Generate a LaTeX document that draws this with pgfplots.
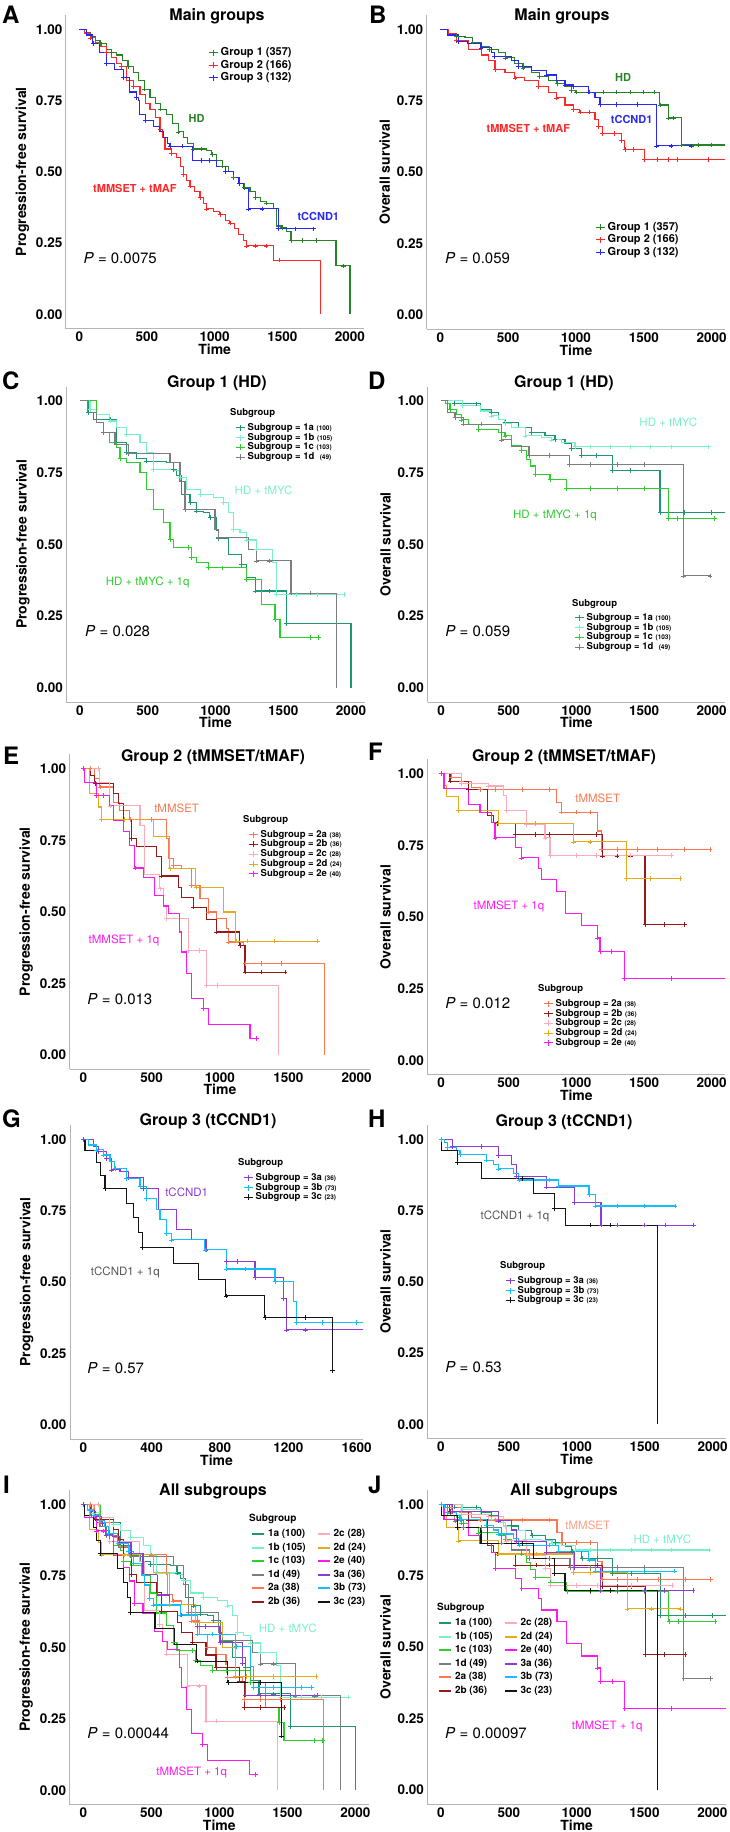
\documentclass[border=0pt]{standalone}
\usepackage{pgfplots}
\pgfplotsset{compat=1.18}
\usepackage{pgfplotstable}
\usepackage{fontspec}
\setmainfont{TeX Gyre Heros}
\setsansfont{TeX Gyre Heros}

\definecolor{axgray}{RGB}{180,180,180}
\definecolor{g1}{RGB}{40,130,40}
\definecolor{g2}{RGB}{255,40,40}
\definecolor{g3}{RGB}{40,40,240}
\definecolor{c1a}{RGB}{30,150,115}
\definecolor{c1b}{RGB}{120,240,200}
\definecolor{c1c}{RGB}{45,205,45}
\definecolor{c1d}{RGB}{125,125,125}
\definecolor{c2a}{RGB}{250,120,80}
\definecolor{c2b}{RGB}{150,25,25}
\definecolor{c2c}{RGB}{255,170,185}
\definecolor{c2d}{RGB}{230,170,30}
\definecolor{c2e}{RGB}{255,25,240}
\definecolor{c3a}{RGB}{140,60,210}
\definecolor{c3b}{RGB}{20,190,250}
\definecolor{c3c}{RGB}{20,20,20}
\definecolor{annGray}{RGB}{85,85,85}

\newcommand\ticfont{\bfseries\fontsize{13.5}{15}\selectfont}
\newcommand\labfont{\bfseries\fontsize{14}{16}\selectfont}
\newcommand\titfont{\bfseries\fontsize{16}{18}\selectfont}
\newcommand\letfont{\bfseries\fontsize{24}{26}\selectfont}
\newcommand\legfont{\bfseries\fontsize{11}{12}\selectfont}
\newcommand\subfont{\bfseries\fontsize{9.5}{10}\selectfont}
\newcommand\allfont{\bfseries\fontsize{10}{11}\selectfont}
\newcommand\annfont{\fontsize{11.5}{12}\selectfont}
\newcommand\annbfont{\bfseries\fontsize{11}{12}\selectfont}
\newcommand\pfont{\fontsize{15}{16}\selectfont}
\newcommand\sm[1]{{\fontsize{6.5}{7}\selectfont #1}}

% ---------- Main groups, PFS ----------
\pgfplotstableread{
t s c
0 1 0
40 0.99 0
80 0.975 0
120 0.96 0
153 0.95 1
200 0.93 0
240 0.92 1
276 0.91 0
320 0.89 0
360 0.87 1
400 0.85 0
440 0.82 0
480 0.79 1
522 0.76 0
560 0.74 0
600 0.72 1
645 0.70 0
690 0.67 0
730 0.64 1
768 0.62 0
800 0.60 0
842 0.58 1
900 0.58 1
941 0.575 0
980 0.56 1
1015 0.54 0
1060 0.52 1
1100 0.50 0
1138 0.48 1
1180 0.46 0
1220 0.445 1
1261 0.43 0
1300 0.41 1
1340 0.395 0
1380 0.39 1
1433 0.37 0
1458 0.31 0
1500 0.305 1
1532 0.29 0
1564 0.26 1
1650 0.26 1
1750 0.26 1
1897 0.17 0
1950 0.17 1
2000 0 0
}\tAa
\pgfplotstableread{
t s c
0 1 0
40 0.985 0
80 0.97 1
120 0.955 0
160 0.94 0
200 0.92 1
240 0.90 0
276 0.88 0
310 0.87 1
350 0.82 0
400 0.80 1
448 0.77 0
490 0.74 0
522 0.72 0
560 0.69 0
596 0.65 1
615 0.62 0
633 0.58 0
680 0.565 1
719 0.55 0
745 0.52 0
768 0.49 1
790 0.47 0
818 0.45 1
850 0.43 0
892 0.41 1
915 0.39 0
941 0.37 1
990 0.36 0
1039 0.35 1
1080 0.33 0
1113 0.32 1
1150 0.30 0
1175 0.28 0
1210 0.26 0
1236 0.24 1
1300 0.24 1
1380 0.24 1
1438 0.19 0
1480 0.19 1
1783 0 0
}\tAb
\pgfplotstableread{
t s c
0 1 0
50 0.98 0
100 0.95 1
150 0.92 0
202 0.88 1
260 0.86 0
325 0.83 1
374 0.78 0
420 0.76 1
436 0.75 0
445 0.70 0
490 0.68 1
547 0.66 0
590 0.64 0
621 0.62 0
650 0.60 0
670 0.59 1
760 0.59 1
837 0.54 0
900 0.54 1
960 0.54 1
1015 0.52 0
1080 0.50 1
1138 0.48 0
1180 0.46 1
1212 0.44 0
1249 0.37 1
1350 0.37 1
1470 0.30 1
1600 0.30 1
1729 0.30 1
}\tAc
% ---------- Main groups, OS ----------
\pgfplotstableread{
t s c
0 1 0
60 0.985 0
120 0.975 1
182 0.97 0
240 0.955 1
305 0.94 0
360 0.93 1
428 0.92 0
480 0.90 1
550 0.88 0
610 0.865 1
673 0.85 0
730 0.835 1
796 0.82 0
860 0.81 1
919 0.80 0
968 0.785 1
1000 0.78 1
1100 0.78 1
1200 0.78 1
1300 0.78 1
1400 0.78 1
1500 0.78 1
1580 0.78 1
1619 0.735 1
1680 0.69 1
1720 0.69 1
1779 0.595 1
1900 0.595 1
2000 0.595 1
2110 0.595 0
}\tBa
\pgfplotstableread{
t s c
0 1 0
59 0.985 0
120 0.96 1
206 0.93 0
305 0.91 0
354 0.89 0
403 0.86 1
477 0.85 0
550 0.83 1
624 0.82 0
722 0.80 1
796 0.78 0
857 0.76 1
919 0.735 0
980 0.72 1
1029 0.71 1
1100 0.71 1
1140 0.685 0
1164 0.66 1
1194 0.635 1
1280 0.635 1
1337 0.61 1
1361 0.58 1
1420 0.58 1
1504 0.545 1
1600 0.545 1
1680 0.545 1
1750 0.545 1
1975 0.545 1
2110 0.545 0
}\tBb
\pgfplotstableread{
t s c
0 1 0
50 0.98 0
133 0.957 1
200 0.95 0
300 0.935 1
378 0.92 0
400 0.905 1
526 0.89 0
575 0.87 1
673 0.855 0
784 0.84 1
857 0.82 0
919 0.805 1
980 0.80 1
1091 0.78 1
1140 0.76 0
1177 0.737 1
1300 0.737 1
1450 0.737 1
1595 0.592 1
1700 0.592 1
1853 0.592 1
}\tBc
% ---------- Group 1 subgroups, PFS ----------
\pgfplotstableread{
t s c
0 1 0
62 0.96 1
98 0.936 0
221 0.936 1
271 0.855 0
344 0.82 1
418 0.80 0
492 0.79 1
640 0.785 0
689 0.76 1
713 0.74 0
750 0.675 0
812 0.645 1
861 0.616 1
910 0.61 0
959 0.593 1
1009 0.55 0
1021 0.52 1
1097 0.465 0
1193 0.43 1
1230 0.384 0
1292 0.337 1
1400 0.337 1
1525 0.224 1
2000 0 0
}\tCa
\pgfplotstableread{
t s c
0 1 0
74 0.97 1
120 0.953 0
221 0.93 1
271 0.907 0
344 0.884 1
443 0.855 0
492 0.82 0
541 0.76 1
689 0.756 0
738 0.733 1
787 0.69 0
886 0.674 1
984 0.663 0
1058 0.645 1
1095 0.61 0
1132 0.552 1
1181 0.54 0
1230 0.515 1
1304 0.483 1
1422 0.436 0
1447 0.326 1
1600 0.326 1
1750 0.326 1
1948 0.326 1
}\tCb
\pgfplotstableread{
t s c
0 1 0
123 0.924 0
172 0.89 1
221 0.855 0
271 0.837 0
295 0.80 1
344 0.785 0
443 0.75 0
492 0.69 0
541 0.62 0
615 0.576 0
664 0.517 1
689 0.488 0
800 0.488 1
824 0.453 1
861 0.436 0
947 0.418 1
1050 0.418 1
1230 0.378 1
1341 0.29 0
1439 0.238 1
1476 0.174 0
1700 0.174 1
1759 0.174 1
}\tCc
\pgfplotstableread{
t s c
0 1 0
54 0.96 0
123 0.924 0
172 0.89 1
258 0.849 0
356 0.817 1
664 0.785 0
738 0.72 0
775 0.622 1
996 0.552 0
1021 0.523 1
1242 0.483 0
1304 0.442 1
1400 0.442 1
1557 0.33 1
1700 0.33 1
1894 0 0
}\tCd
% ---------- Group 1 subgroups, OS ----------
\pgfplotstableread{
t s c
0 1 0
100 0.99 1
264 0.99 1
290 0.97 0
374 0.96 1
424 0.936 0
473 0.924 1
571 0.907 0
670 0.89 1
768 0.878 0
842 0.866 1
916 0.852 0
965 0.835 1
1039 0.81 1
1150 0.81 1
1266 0.758 1
1400 0.758 1
1618 0.61 1
1800 0.61 1
2000 0.61 1
2110 0.61 0
}\tDa
\pgfplotstableread{
t s c
0 1 0
160 0.983 1
290 0.965 0
374 0.948 1
424 0.936 0
473 0.922 1
522 0.907 0
621 0.878 1
744 0.872 0
818 0.864 1
892 0.855 0
990 0.84 1
1100 0.84 1
1250 0.84 1
1400 0.84 1
1550 0.84 1
1700 0.84 1
1975 0.84 1
}\tDb
\pgfplotstableread{
t s c
0 1 0
30 0.99 0
66 0.97 1
116 0.953 0
153 0.934 1
202 0.918 0
276 0.90 1
424 0.89 0
473 0.878 1
522 0.843 0
596 0.826 1
633 0.797 0
660 0.773 0
695 0.744 1
805 0.727 1
928 0.694 1
1100 0.694 1
1300 0.694 1
1500 0.694 1
1680 0.59 1
1750 0.59 1
2020 0.59 1
}\tDc
\pgfplotstableread{
t s c
0 1 0
49 0.96 0
103 0.942 1
165 0.919 1
300 0.919 1
448 0.864 1
522 0.84 0
650 0.81 1
800 0.81 1
951 0.778 1
1100 0.778 1
1300 0.778 1
1500 0.778 1
1790 0.39 1
1988 0.39 1
}\tDd
% ---------- Group 2 subgroups, PFS ----------
\pgfplotstableread{
t s c
0 1 0
49 1 1
85 0.965 0
122 0.936 1
220 0.883 0
268 0.854 0
341 0.823 1
500 0.823 1
610 0.755 0
622 0.685 0
659 0.662 1
720 0.65 0
793 0.592 1
854 0.545 0
915 0.499 1
976 0.476 0
1049 0.441 0
1061 0.394 1
1171 0.382 0
1183 0.318 1
1300 0.318 1
1450 0.318 1
1768 0 0
}\tEa
\pgfplotstableread{
t s c
0 1 0
49 0.977 0
85 0.948 1
220 0.913 0
260 0.878 0
293 0.823 0
354 0.755 1
390 0.727 0
537 0.692 0
573 0.625 1
695 0.586 0
720 0.551 0
805 0.516 1
902 0.473 0
976 0.429 1
1146 0.382 1
1183 0.289 1
1300 0.289 1
1476 0.289 1
}\tEb
\pgfplotstableread{
t s c
0 1 0
110 1 1
122 0.953 0
195 0.87 1
415 0.80 0
451 0.63 0
561 0.58 1
585 0.52 0
610 0.476 1
768 0.365 1
850 0.365 1
902 0.242 1
980 0.242 1
1427 0 0
}\tEc
\pgfplotstableread{
t s c
0 1 0
44 0.913 0
110 0.866 0
134 0.823 1
300 0.823 1
517 0.762 0
634 0.65 1
824 0.586 1
1024 0.499 0
1117 0.397 1
1200 0.397 1
1400 0.397 1
1712 0.397 1
}\tEd
\pgfplotstableread{
t s c
0 1 1
12 0.953 0
98 0.907 1
150 0.907 1
195 0.87 0
220 0.82 0
293 0.779 0
341 0.732 0
378 0.653 1
439 0.62 0
524 0.556 0
585 0.52 0
622 0.493 0
707 0.429 0
720 0.359 0
756 0.283 0
793 0.198 0
878 0.161 1
915 0.105 0
1220 0.056 0
1268 0.056 1
}\tEe
% ---------- Group 2 subgroups, OS ----------
\pgfplotstableread{
t s c
0 1 0
79 0.988 1
153 0.973 1
227 0.953 0
290 0.945 1
400 0.945 1
600 0.945 1
800 0.945 1
855 0.90 0
892 0.866 1
1000 0.866 1
1100 0.866 1
1155 0.80 0
1187 0.736 1
1300 0.736 1
1450 0.736 1
1600 0.736 1
1800 0.736 1
1988 0.736 1
}\tFa
\pgfplotstableread{
t s c
0 1 0
66 0.974 1
202 0.945 1
345 0.855 0
386 0.83 0
416 0.826 1
547 0.787 1
700 0.787 1
800 0.787 1
1150 0.787 1
1192 0.713 1
1300 0.713 1
1400 0.713 1
1507 0.474 1
1650 0.474 1
1798 0.474 1
}\tFb
\pgfplotstableread{
t s c
0 1 0
153 0.965 1
350 0.957 1
460 0.924 0
485 0.872 1
633 0.822 1
768 0.776 1
805 0.715 1
1000 0.715 1
1150 0.715 1
1400 0.715 1
1704 0.715 1
}\tFc
\pgfplotstableread{
t s c
0 1 0
17 0.96 0
42 0.919 0
128 0.872 1
424 0.826 1
700 0.826 1
978 0.762 1
1100 0.762 1
1372 0.634 1
1550 0.634 1
1766 0.634 1
}\tFd
\pgfplotstableread{
t s c
0 1 1
22 0.948 0
202 0.892 0
288 0.864 0
374 0.831 0
399 0.776 1
547 0.741 0
596 0.706 1
719 0.669 0
744 0.63 0
855 0.59 0
923 0.512 0
1039 0.469 0
1155 0.427 1
1175 0.38 1
1260 0.38 1
1355 0.285 1
1700 0.285 1
2110 0.285 0
}\tFe
% ---------- Group 3 subgroups, PFS ----------
\pgfplotstableread{
t s c
0 1 1
59 0.974 0
88 0.957 1
137 0.933 1
166 0.893 1
215 0.887 0
263 0.867 1
351 0.828 1
439 0.755 0
546 0.683 0
634 0.648 0
718 0.613 1
839 0.572 1
900 0.572 1
1005 0.516 1
1171 0.443 1
1190 0.333 1
1300 0.333 1
1720 0.333 1
}\tGa
\pgfplotstableread{
t s c
0 1 0
29 0.98 0
78 0.963 1
117 0.945 1
156 0.922 0
185 0.898 1
254 0.863 1
332 0.834 1
371 0.793 1
429 0.753 0
449 0.718 0
488 0.671 1
517 0.648 1
712 0.613 1
839 0.546 1
950 0.546 1
1122 0.502 1
1229 0.432 0
1249 0.359 1
1400 0.359 1
1600 0.359 1
1680 0.359 1
}\tGb
\pgfplotstableread{
t s c
0 1 0
10 0.96 0
78 0.918 0
98 0.872 0
127 0.828 1
254 0.776 0
293 0.727 0
322 0.673 0
347 0.622 1
527 0.566 0
673 0.51 0
835 0.452 1
1063 0.377 1
1300 0.377 1
1458 0.19 1
}\tGc
% ---------- Group 3 subgroups, OS ----------
\pgfplotstableread{
t s c
0 1 0
83 0.974 1
300 0.974 1
422 0.942 1
520 0.91 0
557 0.869 1
778 0.832 1
982 0.779 1
1178 0.699 1
1300 0.699 1
1500 0.699 1
1650 0.699 1
1857 0.699 1
}\tHa
\pgfplotstableread{
t s c
0 1 1
29 0.988 0
50 0.972 1
115 0.96 0
140 0.947 1
336 0.927 1
386 0.91 0
422 0.896 1
532 0.881 0
574 0.857 1
800 0.857 1
864 0.836 1
1090 0.805 1
1139 0.766 1
1300 0.766 1
1500 0.766 1
1723 0.766 1
}\tHb
\pgfplotstableread{
t s c
0 1 0
5 0.96 0
123 0.918 1
295 0.863 0
600 0.863 1
680 0.811 0
834 0.758 1
914 0.699 0
1100 0.699 1
1250 0.699 1
1595 0 0
}\tHc

% one Kaplan-Meier curve: steps + censoring ticks
\newcommand{\km}[2]{%
  \addplot[const plot, color=#1, line width=1.1pt, forget plot] table[x=t,y=s] {#2};
  \addplot[only marks, mark=+, mark size=2.3pt, color=#1, line width=0.7pt, forget plot,
    restrict expr to domain={\thisrow{c}}{0.5:1.5}] table[x=t,y=s] {#2};
}

\pgfplotsset{
  km/.style={scale only axis, anchor=south west, clip=true,
    axis x line*=bottom, axis y line*=left,
    axis line style={-, draw=axgray, line width=0.9pt},
    ymin=-0.05, ymax=1.05,
    ytick={0,0.25,0.5,0.75,1}, yticklabels={0.00,0.25,0.50,0.75,1.00},
    xmin=-100, xmax=2100,
    xtick={0,500,1000,1500,2000}, xticklabels={0,500,1000,1500,2000},
    major tick length=0pt,
    tick label style={font=\ticfont},
    xlabel={Time}, xlabel style={font=\labfont, yshift=5pt},
    ylabel style={font=\labfont},
    legend cell align=left},
  legplus/.style={legend image code/.code={%
      \draw[##1, line width=1pt] (0pt,0pt) -- (9pt,0pt);
      \draw[##1, line width=0.8pt] (4.5pt,-3pt) -- (4.5pt,3pt);}},
  legline/.style={legend image code/.code={%
      \draw[##1, line width=1.8pt] (0pt,0pt) -- (12pt,0pt);}},
  lgmain/.style={legplus, legend style={at={#1}, anchor=north west, draw=none, fill=none,
      inner sep=0pt, font=\legfont, row sep=2.5pt,
      nodes={inner xsep=2.5pt, inner ysep=0pt, text height=8pt, text depth=2pt}}},
  lgsub/.style={legplus, legend style={at={#1}, anchor=north west, draw=none, fill=none,
      inner sep=0pt, font=\subfont, row sep=0.8pt,
      nodes={inner xsep=2.5pt, inner ysep=0pt, text height=7pt, text depth=2pt}}},
  lgall/.style={legline, legend columns=2, legend style={at={#1}, anchor=north west,
      draw=none, fill=none, inner sep=0pt, font=\allfont, row sep=3.5pt,
      /tikz/every even column/.append style={column sep=8pt},
      nodes={inner xsep=3pt, inner ysep=0pt, text height=7.5pt, text depth=2.5pt}}},
}

\begin{document}
\begin{tikzpicture}
\useasboundingbox (0pt,0pt) rectangle (730pt,-1832pt);

% ===================== A =====================
\begin{axis}[km, at={(65.8pt,-328.55pt)}, width=297.7pt, height=313.5pt,
  ylabel={Progression-free survival}, lgmain={(0.4777,0.8957)}]
\km{g1}{\tAa}
\km{g2}{\tAb}
\km{g3}{\tAc}
\addlegendimage{g1}\addlegendentry{Group 1 (357)}
\addlegendimage{g2}\addlegendentry{Group 2 (166)}
\addlegendimage{g3}\addlegendentry{Group 3 (132)}
\node[font=\annbfont, text=g1, inner sep=0pt] at (axis cs:867,0.688) {HD};
\node[font=\annbfont, text=g2, inner sep=0pt] at (axis cs:411,0.44) {tMMSET + tMAF};
\node[font=\annbfont, text=g3, inner sep=0pt] at (axis cs:1766,0.343) {tCCND1};
\node[font=\pfont, anchor=west, inner sep=0pt] at (axis cs:30,0.198) {\textit{P} = 0.0075};
\end{axis}

% ===================== B =====================
\begin{axis}[km, at={(426.7pt,-329.3pt)}, width=298.5pt, height=314.3pt,
  ylabel={Overall survival}, lgmain={(0.5638,0.3414)}]
\km{g1}{\tBa}
\km{g2}{\tBb}
\km{g3}{\tBc}
\addlegendimage{g1}\addlegendentry{Group 1 (357)}
\addlegendimage{g2}\addlegendentry{Group 2 (166)}
\addlegendimage{g3}\addlegendentry{Group 3 (132)}
\node[font=\annbfont, text=g1, inner sep=0pt] at (axis cs:1348,0.83) {HD};
\node[font=\annbfont, text=g3, inner sep=0pt] at (axis cs:1411,0.685) {tCCND1};
\node[font=\annbfont, text=g2, inner sep=0pt] at (axis cs:649,0.653) {tMMSET + tMAF};
\node[font=\pfont, anchor=west, inner sep=0pt] at (axis cs:34,0.198) {\textit{P} = 0.059};
\end{axis}

% ===================== C =====================
\begin{axis}[km, at={(66.45pt,-702pt)}, width=298.1pt, height=315.4pt,
  ylabel={Progression-free survival}, lgsub={(0.5654,0.8843)}]
\km{c1a}{\tCa}
\km{c1b}{\tCb}
\km{c1c}{\tCc}
\km{c1d}{\tCd}
\addlegendimage{c1a}\addlegendentry{Subgroup = 1a \sm{(100)}}
\addlegendimage{c1b}\addlegendentry{Subgroup = 1b \sm{(105)}}
\addlegendimage{c1c}\addlegendentry{Subgroup = 1c \sm{(103)}}
\addlegendimage{c1d}\addlegendentry{Subgroup = 1d \ \sm{(49)}}
\node[font=\annfont, text=c1b, inner sep=0pt] at (axis cs:1355,0.69) {HD + tMYC};
\node[font=\annfont, text=c1c, inner sep=0pt] at (axis cs:499,0.366) {HD + tMYC + 1q};
\node[font=\pfont, anchor=west, inner sep=0pt] at (axis cs:37,0.198) {\textit{P} = 0.028};
\end{axis}

% ===================== D =====================
\begin{axis}[km, at={(427.5pt,-702pt)}, width=297.7pt, height=315.4pt,
  ylabel={Overall survival}, lgsub={(0.4921,0.2819)}]
\km{c1a}{\tDa}
\km{c1b}{\tDb}
\km{c1c}{\tDc}
\km{c1d}{\tDd}
\addlegendimage{c1a}\addlegendentry{Subgroup = 1a \sm{(100)}}
\addlegendimage{c1b}\addlegendentry{Subgroup = 1b \sm{(105)}}
\addlegendimage{c1c}\addlegendentry{Subgroup = 1c \sm{(103)}}
\addlegendimage{c1d}\addlegendentry{Subgroup = 1d \ \sm{(49)}}
\node[font=\annfont, text=c1b, inner sep=0pt] at (axis cs:1680,0.927) {HD + tMYC};
\node[font=\annfont, text=c1c, inner sep=0pt] at (axis cs:842,0.60) {HD + tMYC + 1q};
\node[font=\pfont, anchor=west, inner sep=0pt] at (axis cs:30,0.198) {\textit{P} = 0.059};
\end{axis}

% ===================== E =====================
\begin{axis}[km, at={(69.6pt,-1069pt)}, width=300.7pt, height=314.6pt,
  ylabel={Progression-free survival}, lgsub={(0.5933,0.760)}]
\km{c2a}{\tEa}
\km{c2b}{\tEb}
\km{c2c}{\tEc}
\km{c2d}{\tEd}
\km{c2e}{\tEe}
\addlegendimage{c2a}\addlegendentry{Subgroup = 2a \sm{(38)}}
\addlegendimage{c2b}\addlegendentry{Subgroup = 2b \sm{(36)}}
\addlegendimage{c2c}\addlegendentry{Subgroup = 2c \sm{(28)}}
\addlegendimage{c2d}\addlegendentry{Subgroup = 2d \sm{(24)}}
\addlegendimage{c2e}\addlegendentry{Subgroup = 2e \sm{(40)}}
\node[font=\annfont, text=c2a, inner sep=0pt] at (axis cs:683,0.862) {tMMSET};
\node[font=\annfont, text=c2e, inner sep=0pt] at (axis cs:298,0.40) {tMMSET + 1q};
\node[font=\pfont, anchor=west, inner sep=0pt] at (axis cs:29,0.196) {\textit{P} = 0.013};
\end{axis}

% ===================== F =====================
\begin{axis}[km, at={(427.5pt,-1074.6pt)}, width=297.7pt, height=315.3pt,
  ylabel={Overall survival}, lgsub={(0.388,0.2398)}]
\km{c2a}{\tFa}
\km{c2b}{\tFb}
\km{c2c}{\tFc}
\km{c2d}{\tFd}
\km{c2e}{\tFe}
\addlegendimage{c2a}\addlegendentry{Subgroup = 2a \sm{(38)}}
\addlegendimage{c2b}\addlegendentry{Subgroup = 2b \sm{(36)}}
\addlegendimage{c2c}\addlegendentry{Subgroup = 2c \sm{(28)}}
\addlegendimage{c2d}\addlegendentry{Subgroup = 2d \sm{(24)}}
\addlegendimage{c2e}\addlegendentry{Subgroup = 2e \sm{(40)}}
\node[font=\annfont, text=c2a, inner sep=0pt] at (axis cs:1158,0.915) {tMMSET};
\node[font=\annfont, text=c2e, inner sep=0pt] at (axis cs:502,0.538) {tMMSET + 1q};
\node[font=\pfont, anchor=west, inner sep=0pt] at (axis cs:30,0.201) {\textit{P} = 0.012};
\end{axis}

% ===================== G =====================
\begin{axis}[km, at={(70pt,-1439.3pt)}, width=293.1pt, height=314.3pt,
  xmin=-78, xmax=1638, xtick={0,400,800,1200,1600}, xticklabels={0,400,800,1200,1600},
  ylabel={Progression-free survival}, lgsub={(0.5902,0.8473)}]
\km{c3a}{\tGa}
\km{c3b}{\tGb}
\km{c3c}{\tGc}
\addlegendimage{c3a}\addlegendentry{Subgroup = 3a \sm{(36)}}
\addlegendimage{c3b}\addlegendentry{Subgroup = 3b \sm{(73)}}
\addlegendimage{c3c}\addlegendentry{Subgroup = 3c \sm{(23)}}
\node[font=\annfont, text=c3a, inner sep=0pt] at (axis cs:605,0.813) {tCCND1};
\node[font=\annfont, text=annGray, inner sep=0pt] at (axis cs:246,0.533) {tCCND1 + 1q};
\node[font=\pfont, anchor=west, inner sep=0pt] at (axis cs:23,0.2) {\textit{P} = 0.57};
\end{axis}

% ===================== H =====================
\begin{axis}[km, at={(427.4pt,-1438.5pt)}, width=298.8pt, height=313.5pt,
  ylabel={Overall survival}, lgsub={(0.2597,0.5183)}]
\km{c3a}{\tHa}
\km{c3b}{\tHb}
\km{c3c}{\tHc}
\addlegendimage{c3a}\addlegendentry{Subgroup = 3a \sm{(36)}}
\addlegendimage{c3b}\addlegendentry{Subgroup = 3b \sm{(73)}}
\addlegendimage{c3c}\addlegendentry{Subgroup = 3c \sm{(23)}}
\node[font=\annfont, text=annGray, inner sep=0pt] at (axis cs:545,0.729) {tCCND1 + 1q};
\node[font=\pfont, anchor=west, inner sep=0pt] at (axis cs:30,0.199) {\textit{P} = 0.53};
\end{axis}

% ===================== I =====================
\begin{axis}[km, at={(69.7pt,-1804.6pt)}, width=299.2pt, height=314.6pt,
  ylabel={Progression-free survival}, lgall={(0.606,0.876)}]
\km{c1a}{\tCa}
\km{c1b}{\tCb}
\km{c1c}{\tCc}
\km{c1d}{\tCd}
\km{c2a}{\tEa}
\km{c2b}{\tEb}
\km{c2c}{\tEc}
\km{c2d}{\tEd}
\km{c2e}{\tEe}
\km{c3a}{\tGa}
\km{c3b}{\tGb}
\km{c3c}{\tGc}
\addlegendimage{c1a}\addlegendentry{1a (100)}
\addlegendimage{c2c}\addlegendentry{2c (28)}
\addlegendimage{c1b}\addlegendentry{1b (105)}
\addlegendimage{c2d}\addlegendentry{2d (24)}
\addlegendimage{c1c}\addlegendentry{1c (103)}
\addlegendimage{c2e}\addlegendentry{2e (40)}
\addlegendimage{c1d}\addlegendentry{1d (49)}
\addlegendimage{c3a}\addlegendentry{3a (36)}
\addlegendimage{c2a}\addlegendentry{2a (38)}
\addlegendimage{c3b}\addlegendentry{3b (73)}
\addlegendimage{c2b}\addlegendentry{2b (36)}
\addlegendimage{c3c}\addlegendentry{3c (23)}
\node[font=\annfont, text=c1b, inner sep=0pt] at (axis cs:1503,0.566) {HD + tMYC};
\node[font=\annfont, text=c2e, inner sep=0pt] at (axis cs:797,0.062) {tMMSET + 1q};
\node[font=\pfont, anchor=west, inner sep=0pt] at (axis cs:29,0.199) {\textit{P} = 0.00044};
\end{axis}

% ===================== J =====================
\begin{axis}[km, at={(427.4pt,-1804.3pt)}, width=298.5pt, height=314.3pt,
  ylabel={Overall survival}, lgall={(0.0355,0.5927)}]
\km{c1a}{\tDa}
\km{c1b}{\tDb}
\km{c1c}{\tDc}
\km{c1d}{\tDd}
\km{c2a}{\tFa}
\km{c2b}{\tFb}
\km{c2c}{\tFc}
\km{c2d}{\tFd}
\km{c2e}{\tFe}
\km{c3a}{\tHa}
\km{c3b}{\tHb}
\km{c3c}{\tHc}
\addlegendimage{c1a}\addlegendentry{1a (100)}
\addlegendimage{c2c}\addlegendentry{2c (28)}
\addlegendimage{c1b}\addlegendentry{1b (105)}
\addlegendimage{c2d}\addlegendentry{2d (24)}
\addlegendimage{c1c}\addlegendentry{1c (103)}
\addlegendimage{c2e}\addlegendentry{2e (40)}
\addlegendimage{c1d}\addlegendentry{1d (49)}
\addlegendimage{c3a}\addlegendentry{3a (36)}
\addlegendimage{c2a}\addlegendentry{2a (38)}
\addlegendimage{c3b}\addlegendentry{3b (73)}
\addlegendimage{c2b}\addlegendentry{2b (36)}
\addlegendimage{c3c}\addlegendentry{3c (23)}
\node[font=\annfont, text=c2a!70, inner sep=0pt] at (axis cs:1082,0.925) {tMMSET};
\node[font=\annfont, text=c1b, inner sep=0pt] at (axis cs:1632,0.876) {HD + tMYC};
\node[font=\annfont, text=c2e, inner sep=0pt] at (axis cs:1225,0.222) {tMMSET + 1q};
\node[font=\pfont, anchor=west, inner sep=0pt] at (axis cs:30,0.2) {\textit{P} = 0.00097};
\end{axis}

% legend titles
\node[font=\subfont, anchor=west, inner sep=0pt] at (230pt,-413pt) {Subgroup};
\node[font=\subfont, anchor=west, inner sep=0pt] at (572pt,-604pt) {Subgroup};
\node[font=\subfont, anchor=west, inner sep=0pt] at (243pt,-820pt) {Subgroup};
\node[font=\subfont, anchor=west, inner sep=0pt] at (538pt,-989pt) {Subgroup};
\node[font=\subfont, anchor=west, inner sep=0pt] at (238pt,-1163pt) {Subgroup};
\node[font=\subfont, anchor=west, inner sep=0pt] at (500pt,-1266pt) {Subgroup};
\node[font=\allfont, anchor=west, inner sep=0pt] at (249pt,-1519pt) {Subgroup};
\node[font=\allfont, anchor=west, inner sep=0pt] at (437pt,-1608pt) {Subgroup};

% panel titles
\node[font=\titfont, anchor=base, inner sep=0pt] at (217pt,-20.5pt) {Main groups};
\node[font=\titfont, anchor=base, inner sep=0pt] at (562pt,-20.5pt) {Main groups};
\node[font=\titfont, anchor=base, inner sep=0pt] at (217pt,-387.5pt) {Group 1 (HD)};
\node[font=\titfont, anchor=base, inner sep=0pt] at (564pt,-387.5pt) {Group 1 (HD)};
\node[font=\titfont, anchor=base, inner sep=0pt] at (213pt,-761.5pt) {Group 2 (tMMSET/tMAF)};
\node[font=\titfont, anchor=base, inner sep=0pt] at (564pt,-761.5pt) {Group 2 (tMMSET/tMAF)};
\node[font=\titfont, anchor=base, inner sep=0pt] at (208pt,-1125.5pt) {Group 3 (tCCND1)};
\node[font=\titfont, anchor=base, inner sep=0pt] at (564pt,-1126.5pt) {Group 3 (tCCND1)};
\node[font=\titfont, anchor=base, inner sep=0pt] at (213pt,-1495.5pt) {All subgroups};
\node[font=\titfont, anchor=base, inner sep=0pt] at (564pt,-1495.5pt) {All subgroups};

% panel letters
\node[font=\letfont, anchor=base west, inner sep=0pt] at (2pt,-23.5pt) {A};
\node[font=\letfont, anchor=base west, inner sep=0pt] at (369pt,-23.5pt) {B};
\node[font=\letfont, anchor=base west, inner sep=0pt] at (2pt,-389.5pt) {C};
\node[font=\letfont, anchor=base west, inner sep=0pt] at (368pt,-389.5pt) {D};
\node[font=\letfont, anchor=base west, inner sep=0pt] at (3pt,-764pt) {E};
\node[font=\letfont, anchor=base west, inner sep=0pt] at (368pt,-760.5pt) {F};
\node[font=\letfont, anchor=base west, inner sep=0pt] at (2pt,-1127.5pt) {G};
\node[font=\letfont, anchor=base west, inner sep=0pt] at (368pt,-1127.5pt) {H};
\node[font=\letfont, anchor=base west, inner sep=0pt] at (3pt,-1493.5pt) {I};
\node[font=\letfont, anchor=base west, inner sep=0pt] at (368pt,-1493.5pt) {J};
\end{tikzpicture}
\end{document}
